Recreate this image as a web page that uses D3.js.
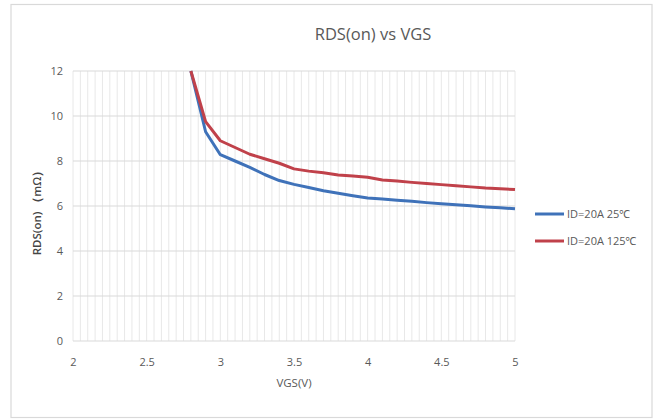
<!DOCTYPE html>
<html>
<head>
<meta charset="utf-8">
<script src="https://cdn.jsdelivr.net/npm/d3@7"></script>
<style>
  body { margin: 0; background: #fff; }
  svg { display: block; }
  text { font-family: "Open Sans", "Noto Sans", sans-serif; }
</style>
</head>
<body>
<svg id="chart" width="660" height="419"></svg>
<script>
const vgs = [2.8, 2.9, 3.0, 3.1, 3.2, 3.3, 3.4, 3.5, 3.6, 3.7, 3.8, 3.9, 4.0,
             4.1, 4.2, 4.3, 4.4, 4.5, 4.6, 4.7, 4.8, 4.9, 5.0];
const rds25 = [12.0, 9.3, 8.28, 8.0, 7.72, 7.4, 7.13, 6.96, 6.82, 6.68, 6.57, 6.46, 6.36,
               6.31, 6.26, 6.21, 6.15, 6.10, 6.06, 6.01, 5.96, 5.92, 5.88];
const rds125 = [12.0, 9.75, 8.9, 8.6, 8.3, 8.1, 7.9, 7.65, 7.55, 7.48, 7.38, 7.33, 7.28,
                7.16, 7.11, 7.05, 7.0, 6.95, 6.9, 6.85, 6.8, 6.77, 6.73];
const seriesNames = ["ID=20A 25\u2103", "ID=20A 125\u2103"];
const xTicks = [2, 2.5, 3, 3.5, 4, 4.5, 5];
const yTicks = [0, 2, 4, 6, 8, 10, 12];
const title = "RDS(on) vs VGS";
const xTitle = "VGS(V)";
const yTitle = "RDS(on) \uFF08m\u03A9\uFF09";

const svg = d3.select("#chart");
const colors = ["#3f72b9", "#c0414a"];

// outer border
svg.append("rect").attr("x", 11).attr("y", 4.5).attr("width", 641).attr("height", 413)
  .attr("fill", "#fff").attr("stroke", "#d9d9d9").attr("stroke-width", 1.2);

const x = d3.scaleLinear().domain([2, 5]).range([73, 515]);
const y = d3.scaleLinear().domain([0, 12]).range([341, 71]);

// minor vertical grid every 0.05
const minor = d3.range(0, 61).map(i => 2 + i * 0.05);
svg.append("g").selectAll("line").data(minor).join("line")
  .attr("x1", d => x(d)).attr("x2", d => x(d))
  .attr("y1", y(0)).attr("y2", y(12))
  .attr("stroke", "#e8e8e8").attr("stroke-width", 1);

// horizontal grid
svg.append("g").selectAll("line").data(yTicks).join("line")
  .attr("x1", x(2)).attr("x2", x(5))
  .attr("y1", d => y(d)).attr("y2", d => y(d))
  .attr("stroke", "#d9d9d9").attr("stroke-width", 1.2);

// axes labels via d3 axes
const yAxis = svg.append("g").attr("transform", `translate(${x(2)},0)`)
  .call(d3.axisLeft(y).tickValues(yTicks).tickSize(0).tickPadding(10).tickFormat(d3.format("d")));
yAxis.select(".domain").remove();
yAxis.selectAll("text").attr("fill", "#595959").style("font-size", "11px");

const xAxis = svg.append("g").attr("transform", `translate(0,${y(0)})`)
  .call(d3.axisBottom(x).tickValues(xTicks).tickSize(0).tickPadding(17).tickFormat(d => String(d)));
xAxis.select(".domain").remove();
xAxis.selectAll("text").attr("fill", "#595959").style("font-size", "11px");

// clip
svg.append("clipPath").attr("id", "plotclip").append("rect")
  .attr("x", x(2)).attr("y", y(12) - 1).attr("width", x(5) - x(2) + 3).attr("height", y(0) - y(12) + 2);

const line = d3.line().x(d => x(d[0])).y(d => y(d[1]));
const series = [rds25, rds125];
series.forEach((vals, i) => {
  svg.append("path")
    .datum(vgs.map((v, j) => [v, vals[j]]))
    .attr("d", line)
    .attr("fill", "none")
    .attr("stroke", colors[i])
    .attr("stroke-width", 3)
    .attr("stroke-linejoin", "round")
    .attr("clip-path", "url(#plotclip)");
});

// title
svg.append("text").attr("x", 373).attr("y", 40).attr("text-anchor", "middle")
  .attr("fill", "#595959").style("font-size", "16.5px").text(title);

// axis titles
svg.append("text").attr("x", 294).attr("y", 387).attr("text-anchor", "middle")
  .attr("fill", "#595959").style("font-size", "11.5px").text(xTitle);
svg.append("text").attr("transform", "translate(41,210) rotate(-90)")
  .attr("text-anchor", "middle").attr("fill", "#454545")
  .style("font-size", "11.5px").style("font-weight", "600").text(yTitle);

// legend
const legY = [214, 241];
seriesNames.forEach((name, i) => {
  svg.append("line").attr("x1", 535).attr("x2", 564)
    .attr("y1", legY[i]).attr("y2", legY[i])
    .attr("stroke", colors[i]).attr("stroke-width", 3);
  svg.append("text").attr("x", 567).attr("y", legY[i] + 4)
    .attr("fill", "#595959").style("font-size", "11px").text(name);
});
</script>
</body>
</html>
